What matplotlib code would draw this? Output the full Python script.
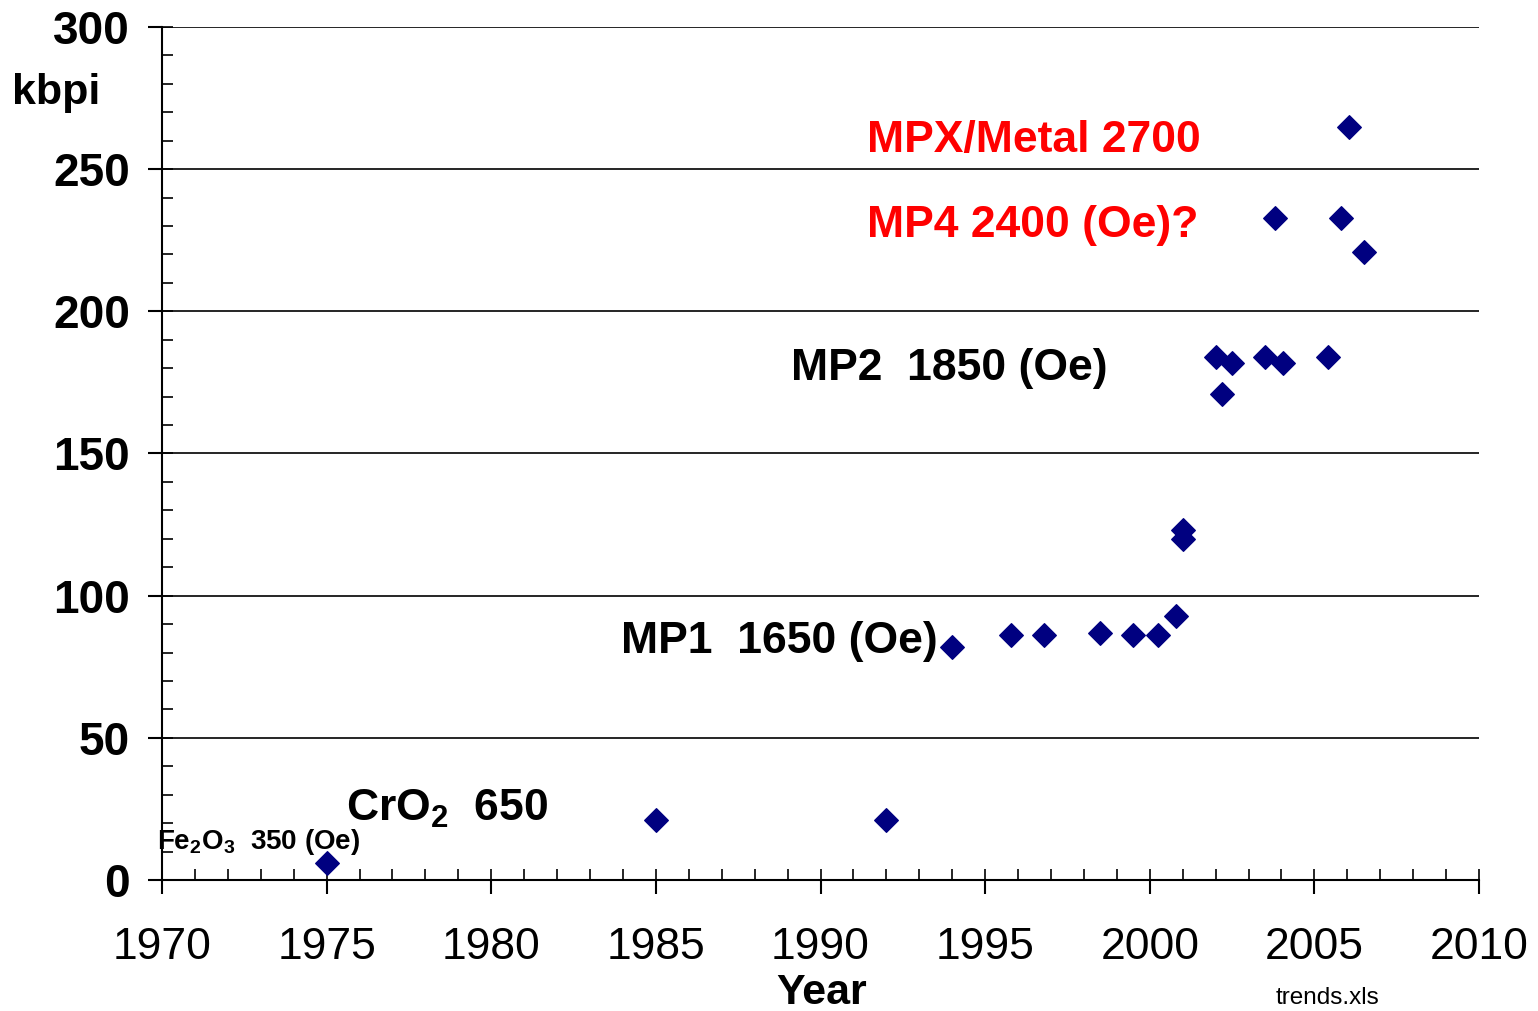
import matplotlib
matplotlib.use("Agg")
import matplotlib.pyplot as plt
from matplotlib.ticker import MultipleLocator

plt.rcParams['font.family'] = ['Liberation Sans', 'DejaVu Sans']
plt.rcParams['mathtext.fontset'] = 'custom'
plt.rcParams['mathtext.rm'] = 'Liberation Sans'
plt.rcParams['mathtext.bf'] = 'Liberation Sans:bold'
plt.rcParams['mathtext.it'] = 'Liberation Sans:italic'

years = [1975.0, 1985.0, 1992.0, 1994.0, 1995.8, 1996.8, 1998.5, 1999.5, 2000.25,
         2000.8, 2001.0, 2001.0, 2002.0, 2002.5, 2002.2, 2003.5, 2004.05, 2005.4,
         2006.05, 2003.8, 2005.8, 2006.5]
kbpi = [6, 21, 21, 82, 86, 86, 87, 86, 86,
        93, 123, 120, 184, 182, 171, 184, 182, 184,
        265, 233, 233, 221]

x_ticks = [1970, 1975, 1980, 1985, 1990, 1995, 2000, 2005, 2010]
y_ticks = [0, 50, 100, 150, 200, 250, 300]

fig = plt.figure(figsize=(15.38, 10.11), dpi=100)
ax = fig.add_axes([162/1538, 1 - 880/1011, (1479-162)/1538, (880-27)/1011])

ax.scatter(years, kbpi, marker='D', s=12**2, color='#000080', zorder=5, clip_on=False)

ax.set_xlim(1970, 2010)
ax.set_ylim(0, 300)
ax.set_xticks(x_ticks)
ax.set_yticks(y_ticks)
ax.xaxis.set_minor_locator(MultipleLocator(1))
ax.yaxis.set_minor_locator(MultipleLocator(10))
ax.xaxis.remove_overlapping_locs = False
ax.yaxis.remove_overlapping_locs = False

ax.grid(axis='y', which='major', color='black', linewidth=1.2)
ax.set_axisbelow(True)
for s in ['top', 'right']:
    ax.spines[s].set_visible(False)
for s in ['left', 'bottom']:
    ax.spines[s].set_linewidth(1.5)
    ax.spines[s].set_color('black')

ax.tick_params(axis='both', which='major', direction='out', length=10, width=1.5)
ax.tick_params(axis='both', which='minor', direction='in', length=8, width=1.2)
ax.tick_params(axis='y', which='major', labelsize=33, pad=13)
ax.tick_params(axis='x', which='major', labelsize=32, pad=24)
for lbl in ax.get_yticklabels():
    lbl.set_fontweight('bold')

fig.text(12/1538, 1 - 93/1011, 'kbpi', fontsize=31, fontweight='bold', ha='left', va='center')
fig.text(822/1538, 1 - 993/1011, 'Year', fontsize=31, fontweight='bold', ha='center', va='center')
fig.text(1328/1538, 1 - 998/1011, 'trends.xls', fontsize=17.5, ha='center', va='center')

ax.text(1991.4, 260, 'MPX/Metal 2700', fontsize=32, fontweight='bold', color='red', ha='left', va='center')
ax.text(1991.4, 230.3, 'MP4 2400 (Oe)?', fontsize=32, fontweight='bold', color='red', ha='left', va='center')
ax.text(1989.1, 179.8, 'MP2  1850 (Oe)', fontsize=32, fontweight='bold', color='black', ha='left', va='center')
ax.text(1983.95, 84.0, 'MP1  1650 (Oe)', fontsize=32, fontweight='bold', color='black', ha='left', va='center')
ax.text(1975.6, 25.0, r'CrO$_\mathbf{2}$  650', fontsize=32, fontweight='bold', color='black', ha='left', va='center')
ax.text(1969.85, 13.3, r'Fe$_\mathbf{2}$O$_\mathbf{3}$  350 (Oe)', fontsize=20, fontweight='bold', color='black', ha='left', va='center')

fig.savefig('out.png', dpi=100)
